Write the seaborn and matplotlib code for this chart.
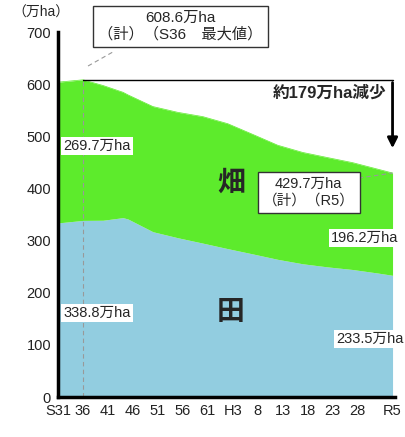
import matplotlib
matplotlib.use("Agg")
import matplotlib.pyplot as plt
import seaborn as sns
import pandas as pd

# ------------------------------------------------------------
# data (万ha)
# ------------------------------------------------------------
years = [1956, 1961, 1965, 1969, 1970, 1975, 1980, 1985, 1990,
         1995, 2000, 2005, 2010, 2015, 2020, 2023]
paddy = [334.0, 338.8, 339.1, 344.1, 341.5, 317.1, 305.5, 295.2, 284.6,
         274.5, 264.1, 255.6, 249.6, 244.6, 237.9, 233.5]
upland = [270.0, 269.7, 258.5, 240.5, 238.1, 240.1, 240.6, 242.7, 239.7,
          229.3, 218.9, 213.6, 209.7, 205.0, 199.3, 196.2]

tick_years = [1956, 1961, 1966, 1971, 1976, 1981, 1986, 1991, 1996,
              2001, 2006, 2011, 2016, 2023]
tick_labels = ["S31", "36", "41", "46", "51", "56", "61", "H3", "8",
               "13", "18", "23", "28", "R5"]

df = pd.DataFrame({"year": years, "paddy": paddy, "upland": upland})
df["total"] = df["paddy"] + df["upland"]

# ------------------------------------------------------------
# plot
# ------------------------------------------------------------
sns.set_theme(style="white")
plt.rcParams["font.family"] = ["Liberation Sans", "Noto Sans CJK JP", "DejaVu Sans"]

fig = plt.figure(figsize=(4.06, 4.37), dpi=100)
ax = fig.add_axes([0.143, 0.0915, 0.83, 0.835])

blue = "#92CDE0"
green = "#5DEB2C"
ax.fill_between(df["year"], 0, df["paddy"], color=blue, lw=0)
ax.fill_between(df["year"], df["paddy"], df["total"], color=green, lw=0)
sns.lineplot(data=df, x="year", y="total", ax=ax, color=green, lw=0.5)

ax.set_xlim(1956, 2023.5)
ax.set_ylim(0, 700)
ax.set_xticks(tick_years)
ax.set_xticklabels(tick_labels)
ax.set_yticks(range(0, 701, 100))
ax.set_xlabel("")
ax.set_ylabel("")
ax.tick_params(axis="both", direction="out", length=4, width=2.5,
               color="black", labelsize=10.5, pad=1, labelcolor="#222222")
for side in ["top", "right"]:
    ax.spines[side].set_visible(False)
for side in ["left", "bottom"]:
    ax.spines[side].set_color("black")
    ax.spines[side].set_linewidth(2.5)

fig.text(0.03, 0.97, "（万ha）", fontsize=10, ha="left", va="center")
fig.text(0.975, 0.015, "（年）", fontsize=10, ha="left", va="center")

# max line and decrease arrow
ax.plot([1961, 1961], [0, 608.6], color="#999999", lw=0.8, ls=(0, (4, 3)))
ax.plot([1961, 2023], [608.6, 608.6], color="black", lw=1)
ax.annotate("", xy=(2023, 472), xytext=(2023, 608.6),
            arrowprops=dict(arrowstyle="-|>", color="black", lw=2,
                            mutation_scale=15), annotation_clip=False)
ax.text(2010.3, 583, "約179万ha減少", fontsize=12, fontweight="bold",
        ha="center", va="center")

# boxes
ax.text(1980.5, 711, "608.6万ha\n（計）（S36　最大値）", fontsize=11,
        ha="center", va="center", bbox=dict(boxstyle="square,pad=0.35",
        fc="white", ec="#333333", lw=1), clip_on=False, linespacing=1.2)
ax.plot([1962, 1967], [635, 662], color="#999999", lw=0.8,
        ls=(0, (4, 3)), clip_on=False)
ax.text(2006.2, 393, "429.7万ha\n（計）（R5）", fontsize=10.5,
        ha="center", va="center", linespacing=1.25,
        bbox=dict(boxstyle="square,pad=0.35", fc="white", ec="#333333", lw=1))
ax.plot([2016.2, 2023], [420, 429.7], color="#999999", lw=0.8, ls=(0, (4, 3)))

# value labels
lab = dict(boxstyle="square,pad=0.15", fc="white", ec="none")
ax.text(1957, 481, "269.7万ha", fontsize=10.5, ha="left", va="center", bbox=lab)
ax.text(1957, 161, "338.8万ha", fontsize=10.5, ha="left", va="center", bbox=lab)
ax.text(2010.7, 305, "196.2万ha", fontsize=10.5, ha="left", va="center",
        bbox=lab, clip_on=False)
ax.text(2011.7, 111, "233.5万ha", fontsize=10.5, ha="left", va="center",
        bbox=lab, clip_on=False)

ax.text(1990.6, 410, "畑", fontsize=20, fontweight="bold", ha="center", va="center")
ax.text(1990.6, 161, "田", fontsize=20, fontweight="bold", ha="center", va="center")

fig.savefig("out.png", dpi=100)
